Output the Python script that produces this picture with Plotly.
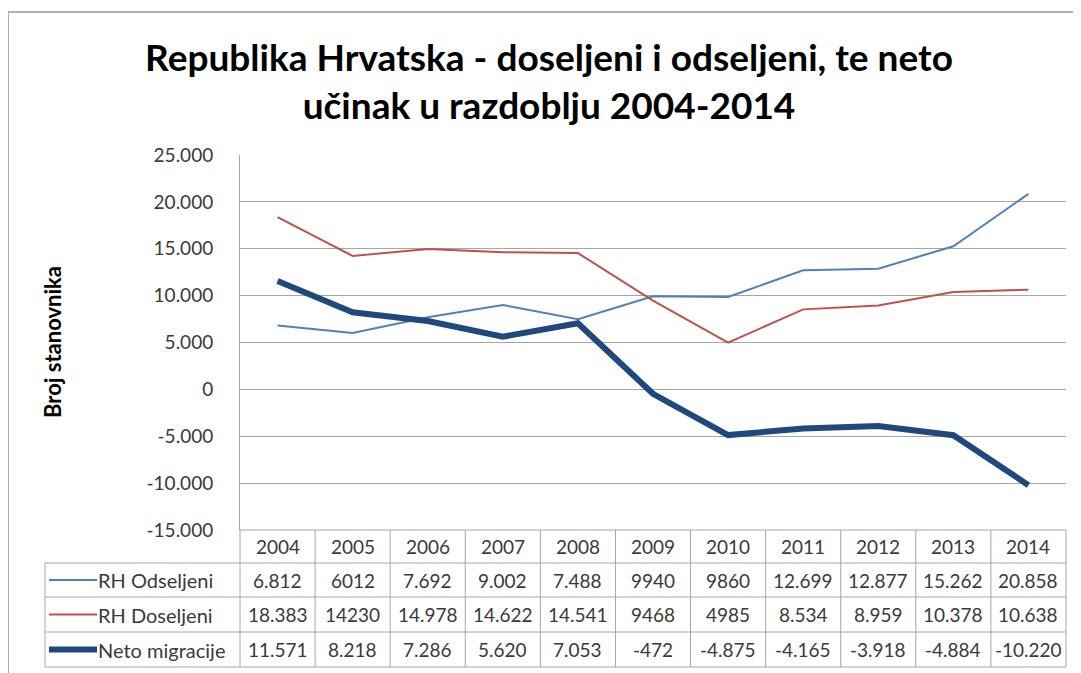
import plotly.graph_objects as go

# ---------------- data ----------------
years = [2004, 2005, 2006, 2007, 2008, 2009, 2010, 2011, 2012, 2013, 2014]
series_names = ["RH Odseljeni", "RH Doseljeni", "Neto migracije"]
odseljeni_labels = ["6.812", "6012", "7.692", "9.002", "7.488", "9940", "9860",
                    "12.699", "12.877", "15.262", "20.858"]
doseljeni_labels = ["18.383", "14230", "14.978", "14.622", "14.541", "9468", "4985",
                    "8.534", "8.959", "10.378", "10.638"]
neto_labels = ["11.571", "8.218", "7.286", "5.620", "7.053", "-472", "-4.875",
               "-4.165", "-3.918", "-4.884", "-10.220"]
ytick_vals = [-15000, -10000, -5000, 0, 5000, 10000, 15000, 20000, 25000]
ytick_text = ["-15.000", "-10.000", "-5.000", "0", "5.000", "10.000", "15.000",
              "20.000", "25.000"]


def parse(s):
    return int(s.replace(".", ""))


series_labels = [odseljeni_labels, doseljeni_labels, neto_labels]
series_values = [[parse(s) for s in lab] for lab in series_labels]

# ---------------- styling ----------------
colors = ["#4F81BD", "#C0504D", "#1F497D"]
widths = [2, 2, 6]
FONT = "Lato"
TXT = "#3A3A3A"
GRID = "#A6A6A6"

OFF = 8  # page body margin
W, H = 1081 - OFF, 673 - OFF
# plot area in screen pixels
SX0, SX1, SY0, SY1 = 240, 1066, 155, 530
L, R = SX0 - OFF, W - (SX1 - OFF)
T, B = SY0 - OFF, H - (SY1 - OFF)
PW, PH = SX1 - SX0, SY1 - SY0


def px_x(px):
    return (px - SX0) / PW


def px_y(py):
    return (SY1 - py) / PH


fig = go.Figure()
for name, vals, c, w in zip(series_names, series_values, colors, widths):
    fig.add_trace(go.Scatter(x=years, y=vals, mode="lines", name=name,
                             line=dict(color=c, width=w), showlegend=False))

shapes = []
# outer chart border
shapes.append(dict(type="rect", xref="paper", yref="paper",
                   x0=px_x(8), x1=px_x(1095), y0=px_y(690), y1=px_y(12),
                   line=dict(color="#B0B0B0", width=2), layer="below"))

# data table
row_lines = [530, 563, 597, 632, 667]
ncol = len(years)
for i, py in enumerate(row_lines):
    x0 = 0 if i == 0 else px_x(45)
    shapes.append(dict(type="line", xref="paper", yref="paper",
                       x0=x0, x1=1, y0=px_y(py), y1=px_y(py),
                       line=dict(color=GRID, width=1)))
for i in range(ncol + 1):
    shapes.append(dict(type="line", xref="paper", yref="paper",
                       x0=i / ncol, x1=i / ncol, y0=px_y(530), y1=px_y(667),
                       line=dict(color=GRID, width=1)))
shapes.append(dict(type="line", xref="paper", yref="paper",
                   x0=px_x(45), x1=px_x(45), y0=px_y(563), y1=px_y(667),
                   line=dict(color=GRID, width=1)))

annotations = []
row_centers = [(row_lines[k] + row_lines[k + 1]) / 2 for k in range(4)]
TFS = 19
for yr in years:
    annotations.append(dict(x=yr, xref="x", y=px_y(row_centers[0]), yref="paper",
                            text=str(yr), showarrow=False,
                            xanchor="center", yanchor="middle",
                            font=dict(family=FONT, size=TFS, color=TXT)))
for k, (name, labs, c, w) in enumerate(zip(series_names, series_labels, colors, widths)):
    yc = px_y(row_centers[k + 1])
    shapes.append(dict(type="line", xref="paper", yref="paper",
                       x0=px_x(49), x1=px_x(97), y0=yc, y1=yc,
                       line=dict(color=c, width=w)))
    annotations.append(dict(x=px_x(96), xref="paper", y=yc, yref="paper",
                            text=name, showarrow=False,
                            xanchor="left", yanchor="middle",
                            font=dict(family=FONT, size=20, color=TXT)))
    for yr, s in zip(years, labs):
        annotations.append(dict(x=yr, xref="x", y=yc, yref="paper",
                                text=s, showarrow=False,
                                xanchor="center", yanchor="middle",
                                font=dict(family=FONT, size=TFS, color=TXT)))

# y axis title
annotations.append(dict(x=px_x(52), xref="paper", y=px_y(342), yref="paper",
                        text="<b>Broj stanovnika</b>", textangle=-90, showarrow=False,
                        xanchor="center", yanchor="middle",
                        font=dict(family=FONT, size=22, color="#000000")))

fig.update_layout(
    width=W, height=H,
    margin=dict(l=L, r=R, t=T, b=B),
    paper_bgcolor="white", plot_bgcolor="white",
    title=dict(text="<b>Republika Hrvatska - doseljeni i odseljeni, te neto<br>učinak u razdoblju 2004-2014</b>",
               x=(549 - OFF) / W, xanchor="center", xref="container",
               y=1 - (71 - OFF) / H, yanchor="middle", yref="container",
               font=dict(family=FONT, size=37, color="#000000")),
    xaxis=dict(range=[2003.5, 2014.5], showgrid=False, zeroline=False,
               showticklabels=False, ticks="", showline=False, fixedrange=True),
    yaxis=dict(range=[-15000, 25000], tickvals=ytick_vals, ticktext=ytick_text,
               showgrid=True, gridcolor=GRID, gridwidth=1, zeroline=False,
               showline=True, linecolor=GRID, linewidth=1, ticks="",
               ticklabelstandoff=22,
               tickfont=dict(family=FONT, size=19, color=TXT)),
    shapes=shapes,
    annotations=annotations,
)

fig.write_html("out.html")
